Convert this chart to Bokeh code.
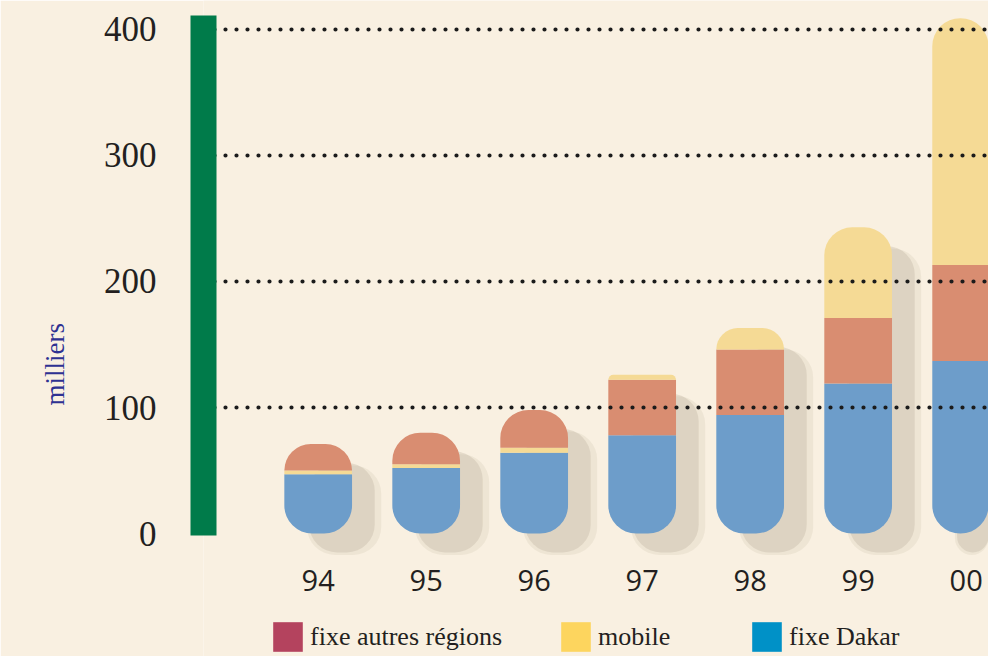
from bokeh.plotting import figure
from bokeh.models import (ColumnDataSource, Range1d, FixedTicker, Legend,
                          LegendItem, Title)
from bokeh.transform import dodge
from bokeh.core.properties import value
from bokeh.embed import file_html
from bokeh.resources import INLINE

# ---------------- data (thousands of lines) ----------------
years = ["94", "95", "96", "97", "98", "99", "00"]
fixe_dakar = [47, 52, 64, 78, 94, 119, 137]
fixe_autres = [21, 25, 30, 44, 52, 52, 76]
mobile = [3, 3, 4, 4, 17, 72, 196]
# in the first years the thin mobile band sits between the two fixed bands
mobile_on_top = [False, False, False, True, True, True, True]
y_ticks = [0, 100, 200, 300, 400]
grid_ticks = [100, 200, 300, 400]
legend_labels = ["fixe autres régions", "mobile", "fixe Dakar"]

# ---------------- styles ----------------
BG = "#f9f0e1"
BLUE = "#6d9dca"
RED = "#d98d71"
YEL = "#f5da95"
LEG_COLORS = ["#b4435e", "#fdd55e", "#0091c7"]
GREEN = "#007b4a"
TXT = "#231f20"
NAVY = "#2e3192"
BAR_W = 0.627
R = 28
YEAR_LABEL_Y = -37

n = len(years)
xs = list(range(n))
totals = [a + b + c for a, b, c in zip(fixe_dakar, fixe_autres, mobile)]

bot = dict(x=xs, bottom=[0] * n, top=fixe_dakar, color=[BLUE] * n)
mid = dict(x=xs, bottom=[], top=[], color=[])
top = dict(x=xs, bottom=[], top=[], color=[])
for i in range(n):
    d = fixe_dakar[i]
    if mobile_on_top[i]:
        mid["bottom"].append(d); mid["top"].append(d + fixe_autres[i]); mid["color"].append(RED)
        top["bottom"].append(d + fixe_autres[i]); top["top"].append(totals[i]); top["color"].append(YEL)
    else:
        mid["bottom"].append(d); mid["top"].append(d + mobile[i]); mid["color"].append(YEL)
        top["bottom"].append(d + mobile[i]); top["top"].append(totals[i]); top["color"].append(RED)

p = figure(width=988, height=656, output_backend="svg", toolbar_location=None,
           x_range=Range1d(-1.062, 6.207), y_range=Range1d(-97.6, 423.0),
           min_border_left=203, min_border_right=0, min_border_top=0,
           min_border_bottom=0)
p.background_fill_color = BG
p.border_fill_color = BG
p.outline_line_color = None

# shadows
shadow = ColumnDataSource(dict(x=xs, total=totals))
p.vbar(x=dodge("x", 0.24, range=p.x_range), top=dodge("total", -17, range=p.y_range),
       bottom=-17, width=BAR_W + 0.06, source=shadow, fill_color="#cabda9",
       fill_alpha=0.22, line_color=None, border_radius=(R, R, R, R))
p.vbar(x=dodge("x", 0.22, range=p.x_range), top=dodge("total", -15, range=p.y_range),
       bottom=-15, width=BAR_W - 0.02, source=shadow, fill_color="#bcad9a",
       fill_alpha=0.32, line_color=None, border_radius=(R, R, R, R))

# stacked pill bars
p.vbar(x="x", bottom="bottom", top="top", width=BAR_W, source=ColumnDataSource(bot),
       fill_color="color", line_color=None, border_radius=(0, 0, R, R))
p.vbar(x="x", bottom="bottom", top="top", width=BAR_W, source=ColumnDataSource(mid),
       fill_color="color", line_color=None)
p.vbar(x="x", bottom="bottom", top="top", width=BAR_W, source=ColumnDataSource(top),
       fill_color="color", line_color=None, border_radius=(R, R, 0, 0))

# year labels under the bars
p.text(x=xs, y=[YEAR_LABEL_Y] * n, text=years, text_align="center",
       text_baseline="middle", text_font=value("Open Sans"),
       text_font_size="29px", text_color=TXT)

# grid: dotted lines drawn over the bars
p.xgrid.visible = False
p.ygrid.ticker = FixedTicker(ticks=grid_ticks)
p.ygrid.grid_line_color = "#1b1b1b"
p.ygrid.grid_line_width = 4.2
p.ygrid.grid_line_dash = "0 11"
p.ygrid.grid_line_cap = "round"
p.ygrid.level = "annotation"

# x axis replaced by the year labels
p.xaxis.visible = False

# y axis: thick green bar
yax = p.yaxis[0]
yax.ticker = FixedTicker(ticks=y_ticks)
yax.bounds = (-1.6, 411.1)
yax.axis_line_color = GREEN
yax.axis_line_width = 26
yax.major_tick_line_color = None
yax.minor_tick_line_color = None
yax.major_label_standoff = 41
yax.major_label_text_font = "Liberation Serif"
yax.major_label_text_font_size = "35px"
yax.major_label_text_color = TXT
yax.level = "overlay"

# unit label on the left
p.add_layout(Title(text="milliers", align="left", offset=251, standoff=62,
                   text_font="Liberation Serif", text_font_size="27px",
                   text_font_style="normal", text_color=NAVY), "left")

# legend at the bottom (swatch colours differ from the faded bar colours)
leg_r = [p.vbar(x=[0], top=[0], bottom=[0], width=0.01, fill_color=c, line_color=None)
         for c in LEG_COLORS]
legend = Legend(items=[LegendItem(label=l, renderers=[r]) for l, r in zip(legend_labels, leg_r)],
                orientation="horizontal", location=(66, 1),
                glyph_width=37, glyph_height=37, label_standoff=4,
                spacing=55, label_width=95, padding=0, margin=0,
                background_fill_alpha=0, border_line_alpha=0,
                label_text_font="Liberation Serif", label_text_font_size="26px",
                label_text_color=TXT)
p.add_layout(legend)

open("out.html", "w").write(file_html(p, INLINE))
